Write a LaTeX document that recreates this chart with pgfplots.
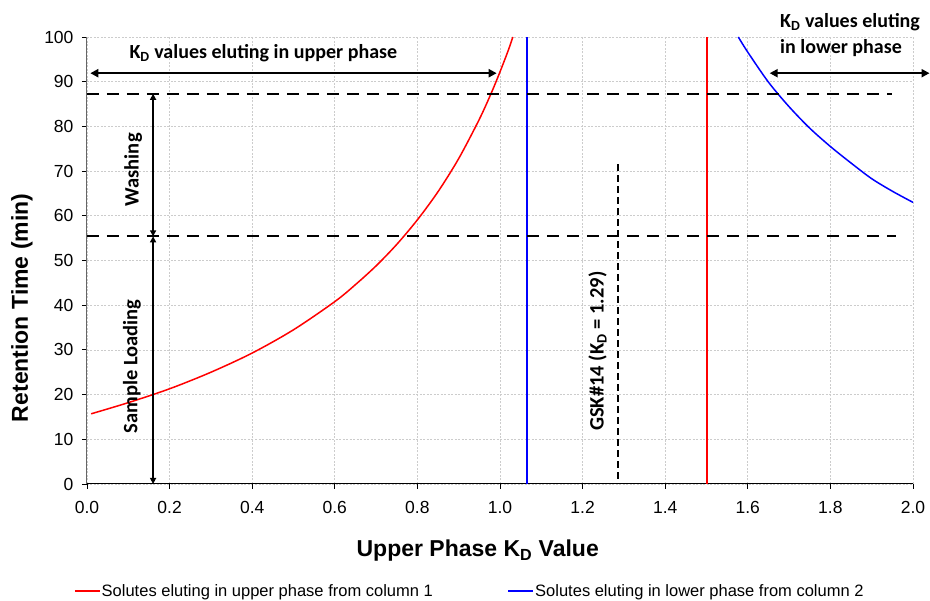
\documentclass[border=0pt]{standalone}
\usepackage{pgfplots}
\pgfplotsset{compat=1.18}
\usepackage{fontspec}
\setmainfont{Liberation Sans}
\newfontfamily\calib{Carlito}
\usetikzlibrary{arrows.meta}
\begin{document}
\begin{tikzpicture}
\path[use as bounding box] (-87pt,-117pt) rectangle (843pt,484pt);
\begin{axis}[
  scale only axis, width=826pt, height=447pt,
  at={(0,0)}, anchor=south west,
  xmin=0, xmax=2, ymin=0, ymax=100,
  xtick={0,0.2,...,2.0}, ytick={0,10,...,100},
  /pgf/number format/assume math mode=true,
  ticklabel style={font=\fontsize{17.5}{21}\selectfont},
  xticklabel style={/pgf/number format/fixed, /pgf/number format/fixed zerofill, /pgf/number format/precision=1, yshift=-9pt},
  yticklabel style={xshift=-5pt},
  axis x line=bottom, axis y line=left,
  axis line style={-},
  y axis line style={gray!80!black, line width=1pt},
  x axis line style={black, line width=1pt},
  tick align=outside, major tick length=5pt,
  tick style={black, line width=0.8pt},
  grid=major,
  major grid style={gray!40, dash pattern=on 2pt off 1.5pt, line width=0.7pt},
  clip=false,
  xlabel={\textbf{Upper Phase K\textsubscript{D} Value}},
  ylabel={\textbf{Retention Time (min)}},
  label style={font=\fontsize{23}{27}\selectfont},
  xlabel style={at={(rel axis cs:0.473,-0.150)}, anchor=center},
  ylabel style={at={(rel axis cs:-0.0787,0.394)}, anchor=center, rotate=0},
  legend columns=2,
  legend style={at={(rel axis cs:-0.0157,-0.239)}, anchor=west, draw=none, fill=none,
    font=\fontsize{16.5}{19}\selectfont, inner sep=0pt,
    nodes={inner xsep=1pt, inner ysep=1pt}, column sep=0pt},
  legend cell align=left,
  legend image code/.code={\draw[#1] (0pt,0pt) -- (25pt,0pt);},
]
% red curve (upper phase, column 1)
\addplot[red, line width=1.5pt, smooth] coordinates {
(0.01,15.7) (0.10,18.2) (0.20,21.3) (0.30,25.0) (0.40,29.3) (0.50,34.5)
(0.60,40.8) (0.65,44.6) (0.70,48.8) (0.75,53.6) (0.80,59.1) (0.85,65.4)
(0.90,72.8) (0.95,81.6) (0.98,87.7) (1.00,92.2) (1.02,97.0) (1.031,100)
};
\addlegendentry{\makebox[405pt][l]{Solutes eluting in upper phase from column 1}}
% blue curve (lower phase, column 2)
\addplot[blue, line width=1.5pt, smooth] coordinates {
(1.577,100) (1.60,96.6) (1.65,89.9) (1.70,84.4) (1.75,79.6) (1.80,75.5)
(1.85,71.8) (1.90,68.3) (1.95,65.5) (2.0,63.0)
};
\addlegendentry{Solutes eluting in lower phase from column 2}
% vertical asymptote lines
\addplot[blue, line width=2pt, forget plot] coordinates {(1.066,0) (1.066,100)};
\addplot[red, line width=2pt, forget plot] coordinates {(1.500,0) (1.500,100)};
% dashed reference lines
\addplot[black, line width=2.2pt, dash pattern=on 12pt off 8pt, forget plot] coordinates {(0,87.3) (1.949,87.3)};
\addplot[black, line width=2.2pt, dash pattern=on 12pt off 8pt, forget plot] coordinates {(0,55.4) (1.958,55.4)};
\addplot[black, line width=1.4pt, dash pattern=on 7pt off 4pt, forget plot] coordinates {(1.286,1.2) (1.286,72.2)};
% annotations
\draw[line width=2pt, {Triangle[length=8pt,width=8pt]}-{Triangle[length=8pt,width=8pt]}] (axis cs:0.008,91.9) -- (axis cs:0.992,91.9);
\draw[line width=2pt, {Triangle[length=8pt,width=8pt]}-{Triangle[length=8pt,width=8pt]}] (axis cs:1.653,91.9) -- (axis cs:2.04,91.9);
\draw[line width=1.4pt, {Triangle[length=6pt,width=6pt]}-{Triangle[length=6pt,width=6pt]}] (axis cs:0.16,87.3) -- (axis cs:0.16,55.4);
\draw[line width=1.4pt, {Triangle[length=6pt,width=6pt]}-{Triangle[length=6pt,width=6pt]}] (axis cs:0.16,55.4) -- (axis cs:0.16,0);
\node[font=\calib\bfseries\fontsize{20}{24}\selectfont] at (axis cs:0.427,96.4) {K\textsubscript{D} values eluting in upper phase};
\node[font=\calib\bfseries\fontsize{20}{24}\selectfont, anchor=west] at (axis cs:1.67,103.4) {K\textsubscript{D} values eluting};
\node[font=\calib\bfseries\fontsize{20}{24}\selectfont, anchor=west] at (axis cs:1.67,97.6) {in lower phase};
\node[font=\calib\bfseries\fontsize{20.5}{24}\selectfont, rotate=90] at (axis cs:0.112,70.3) {Washing};
\node[font=\calib\bfseries\fontsize{20.5}{24}\selectfont, rotate=90] at (axis cs:0.109,26.3) {Sample Loading};
\node[font=\calib\bfseries\fontsize{20.5}{24}\selectfont, rotate=90] at (axis cs:1.236,29.7) {GSK\#14 (K\textsubscript{D} = 1.29)};
\end{axis}
\end{tikzpicture}
\end{document}
